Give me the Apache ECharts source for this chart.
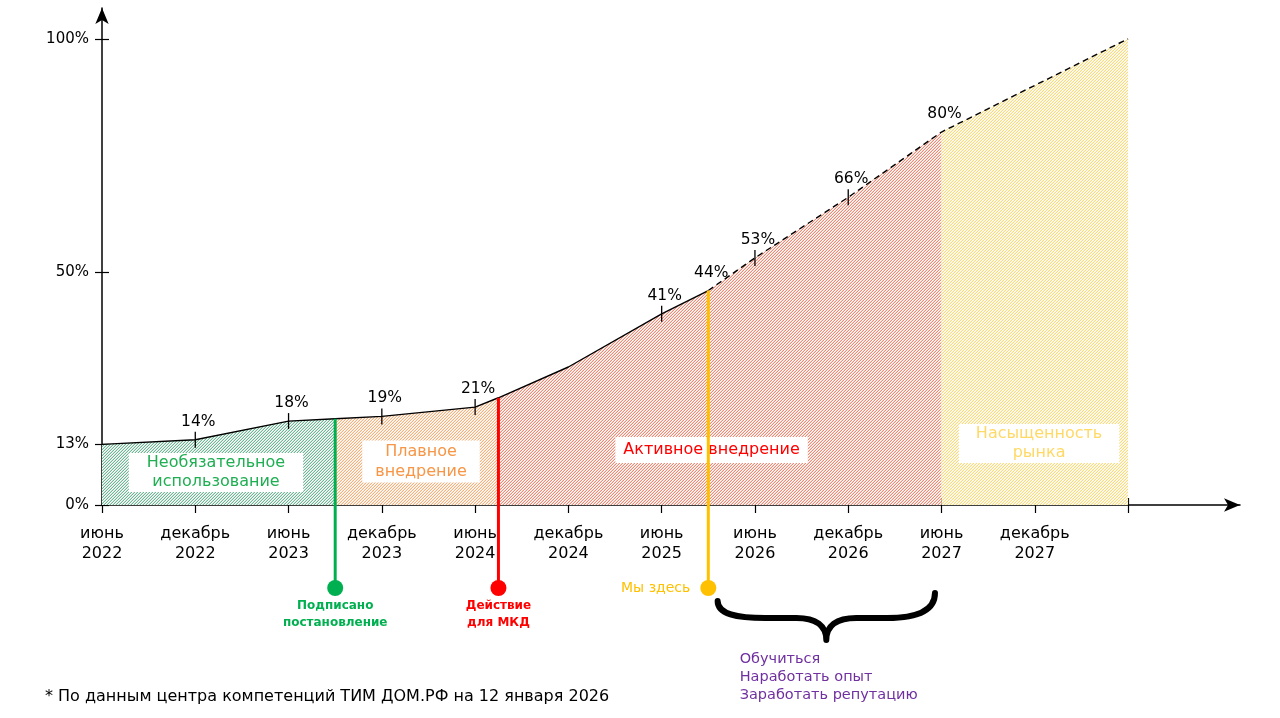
<!DOCTYPE html>
<html>
<head>
<meta charset="utf-8" />
<title>ТИМ</title>
<script src="https://cdn.jsdelivr.net/npm/echarts@6.0.0/dist/echarts.min.js"></script>
<style>
    html, body { margin: 0; padding: 0; background: #fff; }
    #main { width: 1280px; height: 718px; }
</style>
</head>
<body>
<div id="main"></div>
<script type="text/javascript">
    // подписи оси X (полугодия от июня 2022)
    var tickLabels = ['июнь\n2022', 'декабрь\n2022', 'июнь\n2023', 'декабрь\n2023', 'июнь\n2024',
        'декабрь\n2024', 'июнь\n2025', 'июнь\n2026', 'декабрь\n2026', 'июнь\n2027', 'декабрь\n2027'];
    var yTicks = [0, 13, 50, 100];

    // точки кривой: позиция в полугодиях и доля, %
    var halfYear = [0, 1, 2, 2.5, 3, 4, 4.25, 5, 6, 6.5, 7, 8, 9, 11];
    var share = [13, 14, 18, 18.5, 19, 21, 23, 29.6, 41, 46, 53, 66, 80, 100];
    var shareLabels = ['', '14%', '18%', '', '19%', '21%', '', '', '41%', '44%', '53%', '66%', '80%', ''];
    var hasTick = [0, 1, 1, 0, 1, 1, 0, 0, 1, 0, 1, 1, 0, 0];
    var forecastFrom = 6.5;

    // фазы
    var phaseNames = ['Необязательное\nиспользование', 'Плавное\nвнедрение', 'Активное внедрение', 'Насыщенность\nрынка'];
    var phaseStart = [0, 2.5, 4.25, 9];
    var phaseEnd = [2.5, 4.25, 9, 11];
    var phaseLabelPos = [[1.222, 6.97], [3.42, 9.33], [6.535, 11.8], [10.046, 13.2]];

    // события
    var eventX = [2.5, 4.25, 6.5];
    var eventNames = ['Подписано\nпостановление', 'Действие\nдля МКД', 'Мы здесь'];

    var braceFrom = 6.6, braceTo = 8.93;
    var braceText = 'Обучиться\nНаработать опыт\nЗаработать репутацию';
    var footnote = '* По данным центра компетенций ТИМ ДОМ.РФ на 12 января 2026';

    var font = 'DejaVu Sans';
    var phaseColors = [[108, 184, 146], [248, 176, 122], [242, 136, 114], [250, 218, 120]];
    var phaseTextColors = ['#1fae52', '#f79646', '#ff0000', '#ffd966'];
    var phasePadding = [[0, 18], [1, 13], [3, 8], [0, 17]];
    var phaseLineHeight = [19.5, 20, 20, 19.5];
    var eventColors = ['#00b050', '#ff0000', '#ffc000'];

    // штриховка "////" с шагом 3 px
    function hatch(rgb) {
        var c = document.createElement('canvas');
        c.width = c.height = 3;
        var g = c.getContext('2d');
        var img = g.createImageData(3, 3);
        for (var y = 0; y < 3; y++) {
            for (var x = 0; x < 3; x++) {
                var k = (x + y) % 3, t = k === 2 ? 1 : (k === 1 ? 0.35 : 0);
                var o = (y * 3 + x) * 4;
                img.data[o] = Math.round(255 - (255 - rgb[0]) * t);
                img.data[o + 1] = Math.round(255 - (255 - rgb[1]) * t);
                img.data[o + 2] = Math.round(255 - (255 - rgb[2]) * t);
                img.data[o + 3] = 255;
            }
        }
        g.putImageData(img, 0, 0);
        return { image: c, repeat: 'repeat' };
    }

    var points = halfYear.map(function (x, i) { return [x, share[i]]; });
    function range(a, b) {
        return points.filter(function (p) { return p[0] >= a && p[0] <= b; });
    }

    var series = [];
    // заштрихованные области
    for (var i = 0; i < phaseNames.length; i++) {
        series.push({
            type: 'line',
            data: range(phaseStart[i], phaseEnd[i]),
            symbol: 'none',
            lineStyle: { width: 0 },
            areaStyle: { color: hatch(phaseColors[i]), opacity: 1 },
            z: 1,
            silent: true
        });
    }
    // факт
    series.push({
        type: 'line', data: range(0, forecastFrom), symbol: 'none',
        lineStyle: { color: '#000', width: 1.4 }, z: 5
    });
    // прогноз
    series.push({
        type: 'line', data: range(forecastFrom, 11), symbol: 'none',
        lineStyle: { color: '#000', width: 1.4, type: [6, 4] }, z: 5
    });
    // засечки на линии
    series.push({
        type: 'scatter',
        data: points.filter(function (p, i) { return hasTick[i]; }),
        symbol: 'rect', symbolSize: [1.3, 16],
        itemStyle: { color: '#000', opacity: 1 }, z: 6
    });
    // подписи значений
    series.push({
        type: 'scatter',
        data: points.map(function (p, i) { return { value: p, name: shareLabels[i] }; })
            .filter(function (d) { return d.name; }),
        symbolSize: 0,
        itemStyle: { opacity: 1 },
        label: {
            show: true, position: 'top', distance: 10, offset: [3, 0],
            formatter: '{b}', fontFamily: font, fontSize: 15.5, color: '#000'
        },
        z: 7
    });
    // подписи фаз
    series.push({
        type: 'scatter',
        data: phaseNames.map(function (n, i) {
            return {
                value: phaseLabelPos[i], name: n,
                label: { color: phaseTextColors[i], padding: phasePadding[i], lineHeight: phaseLineHeight[i] }
            };
        }),
        symbolSize: 0,
        itemStyle: { opacity: 1 },
        label: {
            show: true, position: 'inside', formatter: '{b}',
            fontFamily: font, fontSize: 16,
            backgroundColor: '#fff', align: 'center'
        },
        z: 8
    });
    // события
    series.push({
        type: 'custom',
        data: eventX.map(function (x) { return [x, share[halfYear.indexOf(x)]]; }),
        clip: false,
        z: 9,
        renderItem: function (params, api) {
            var top = api.coord([api.value(0), api.value(1)]);
            var base = api.coord([api.value(0), 0]);
            var by = base[1] + 83;
            var col = eventColors[params.dataIndex];
            var last = params.dataIndex === 2;
            return {
                type: 'group',
                children: [
                    { type: 'line', shape: { x1: top[0], y1: top[1], x2: top[0], y2: by },
                        style: { stroke: col, lineWidth: 3 } },
                    { type: 'circle', shape: { cx: top[0], cy: by, r: 8 }, style: { fill: col } },
                    { type: 'text',
                        x: last ? top[0] - 18 : top[0], y: last ? by : by + 9,
                        style: {
                            text: eventNames[params.dataIndex], fill: col,
                            font: (last ? 'normal 14px "' : 'bold 12px "') + font + '"', lineHeight: 17,
                            align: last ? 'right' : 'center', verticalAlign: last ? 'middle' : 'top'
                        } }
                ]
            };
        }
    });
    // фигурная скобка
    series.push({
        type: 'custom',
        data: [[braceFrom, braceTo]],
        clip: false,
        z: 9,
        renderItem: function (params, api) {
            var a = api.coord([api.value(0), 0]);
            var b = api.coord([api.value(1), 0]);
            var x1 = a[0], x2 = b[0], y0 = a[1] + 87, m = (x1 + x2) / 2, f = y0 + 26;
            var d = 'M' + x1 + ' ' + (y0 + 9) +
                ' C' + x1 + ' ' + (f - 4) + ' ' + (x1 + 18) + ' ' + f + ' ' + (x1 + 48) + ' ' + f +
                ' L' + (m - 30) + ' ' + f +
                ' C' + (m - 10) + ' ' + f + ' ' + m + ' ' + (f + 8) + ' ' + m + ' ' + (f + 22) +
                ' C' + m + ' ' + (f + 8) + ' ' + (m + 10) + ' ' + f + ' ' + (m + 30) + ' ' + f +
                ' L' + (x2 - 48) + ' ' + f +
                ' C' + (x2 - 16) + ' ' + f + ' ' + x2 + ' ' + (f - 8) + ' ' + x2 + ' ' + (y0 + 1);
            return {
                type: 'group',
                children: [
                    { type: 'path', shape: { pathData: d },
                        style: { stroke: '#000', lineWidth: 6, fill: null, lineCap: 'round', lineJoin: 'round' } },
                    { type: 'text', x: x1 + 22, y: y0 + 58,
                        style: { text: braceText, fill: '#7030a0', font: 'normal 14.5px "' + font + '"',
                            lineHeight: 18, align: 'left', verticalAlign: 'top' } }
                ]
            };
        }
    });

    var tickIdx = tickLabels.map(function (t, i) { return i; });

    var option = {
        animation: false,
        title: {
            text: footnote, left: 40, top: 684,
            textStyle: { fontFamily: font, fontSize: 16, fontWeight: 'normal', color: '#000' }
        },
        grid: { left: 102, right: 40, top: 8, bottom: 213, containLabel: false, outerBoundsMode: 'none' },
        xAxis: [{
            type: 'value', min: 0, max: 12.2,
            axisLine: { lineStyle: { color: '#000', width: 1.5 }, symbol: ['none', 'arrow'], symbolSize: [10, 16] },
            axisTick: { length: 8, lineStyle: { color: '#000', width: 1.2 }, customValues: tickIdx.concat([11]) },
            axisLabel: {
                customValues: tickIdx, margin: 19, fontFamily: font, fontSize: 16, lineHeight: 20, color: '#000',
                formatter: function (v) { return tickLabels[Math.round(v)] || ''; }
            },
            splitLine: { show: false }
        }, {
            type: 'value', min: 0, max: 12.2, position: 'bottom', offset: 0,
            axisLine: { show: false },
            axisTick: { inside: true, length: 7, lineStyle: { color: '#000', width: 1.2 }, customValues: tickIdx.concat([11]) },
            axisLabel: { show: false },
            splitLine: { show: false }
        }],
        yAxis: [{
            type: 'value', min: 0, max: 106.6,
            axisLine: { show: true, lineStyle: { color: '#000', width: 1.5 }, symbol: ['none', 'arrow'], symbolSize: [10, 16] },
            axisTick: { show: true, length: 7, lineStyle: { color: '#000', width: 1.2 }, customValues: yTicks },
            axisLabel: {
                customValues: yTicks, margin: 13, fontFamily: font, fontSize: 15, color: '#000',
                formatter: '{value}%'
            },
            splitLine: { show: false }
        }, {
            type: 'value', min: 0, max: 106.6, position: 'left', offset: 0,
            axisLine: { show: false },
            axisTick: { show: true, inside: true, length: 7, lineStyle: { color: '#000', width: 1.2 }, customValues: yTicks },
            axisLabel: { show: false },
            splitLine: { show: false }
        }],
        series: series
    };

    var myChart = echarts.init(document.getElementById('main'));
    myChart.setOption(option);
</script>
</body>
</html>
